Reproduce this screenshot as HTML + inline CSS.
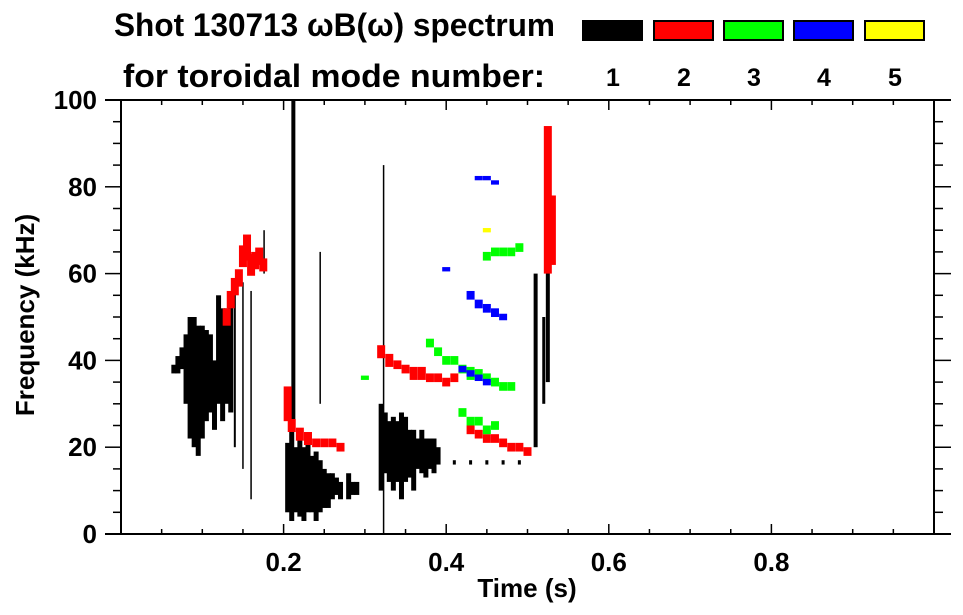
<!DOCTYPE html>
<html><head><meta charset="utf-8"><style>
body{margin:0;background:#fff;}
svg{display:block;font-family:"Liberation Sans",sans-serif;font-weight:bold;}
</style></head><body>
<svg id="chart" width="963" height="615" viewBox="0 0 963 615">
<g>
<text x="114" y="36" font-size="32" textLength="441" lengthAdjust="spacingAndGlyphs">Shot 130713 ωB(ω) spectrum</text>
<text x="123" y="87" font-size="32" textLength="422" lengthAdjust="spacingAndGlyphs">for toroidal mode number:</text>
</g>
<g id="legend"></g>
<g id="marks"></g>
<g id="axes"></g>
<text x="527" y="597" font-size="26" text-anchor="middle">Time (s)</text>
<text transform="translate(34,315) rotate(-90)" font-size="26" text-anchor="middle">Frequency (kHz)</text>
</svg>
<script>
const modeLabels=["1","2","3","4","5"];
const modeColors=["#000","#f00","#0f0","#00f","#ff0"];
const xTicks=[0.2,0.4,0.6,0.8];
const xTickLabels=["0.2","0.4","0.6","0.8"];
const yTicks=[0,20,40,60,80,100];
const yTickLabels=["0","20","40","60","80","100"];
// mode 1 (black) columns: time, low freq, high freq
const m1T=[0.065,0.07,0.075,0.08,0.085,0.09,0.095,0.10,0.105,0.11,0.115,0.12,0.125,0.13,0.135,0.14,0.15,0.16,0.212,0.205,0.21,0.215,0.22,0.225,0.23,0.235,0.24,0.245,0.25,0.255,0.26,0.265,0.27,0.28,0.285,0.29,0.32,0.325,0.33,0.335,0.34,0.345,0.35,0.355,0.36,0.365,0.37,0.375,0.38,0.385,0.39,0.41,0.43,0.45,0.47,0.49,0.51,0.52,0.525,0.323,0.176,0.245];
const m1Lo=[37,37,38,30,22,20,18,22,26,28,24,30,26,30,28,20,15,8,26,5,3,5,4,3,5,5,3,5,6,6,8,9,8,8,9,9,10,14,12,10,12,8,12,13,10,15,14,13,15,14,16,16,16,16,16,16,20,30,35,0,60,30];
const m1Hi=[39,41,43,46,50,50,48,48,47,46,40,55,52,52,55,56,58,56,100,21,24,20,22,20,22,18,19,17,15,14,14,13,12,14,12,12,30,28,26,27,26,28,27,24,24,22,24,22,22,22,20,17,17,17,17,17,60,50,72,85,70,65];
const m1W=[5,5,5,5,5,5,5,5,5,5,5,5,5,5,5,2,1.5,1.5,4,5,5,5,5,5,5,5,5,5,5,5,5,5,5,5,5,5,5,5,5,5,5,5,5,5,5,5,5,5,5,5,5,3,3,3,3,3,4,3,4,1.5,1.5,1.5];
// mode 2 (red)
const m2T=[0.13,0.135,0.14,0.145,0.15,0.155,0.16,0.165,0.17,0.175,0.205,0.21,0.22,0.23,0.24,0.25,0.26,0.27,0.32,0.33,0.34,0.35,0.36,0.37,0.38,0.39,0.40,0.41,0.43,0.44,0.45,0.46,0.47,0.48,0.49,0.50,0.525,0.53];
const m2F=[50,54,57,59,64,66,62,63,64,62,30,25,23,22,21,21,21,20,42,40,39,38,37,37,36,36,35,36,24,23,22,22,21,20,20,19,77,70];
const m2S=[4,4,4,4,5,6,5,4,4,3,8,3,3,3,2,2,2,2,3,3,2,2,3,3,2,2,2,2,2,2,2,2,2,2,2,2,34,16];
// mode 3 (green)
const m3T=[0.45,0.46,0.47,0.48,0.49,0.38,0.39,0.40,0.41,0.42,0.43,0.44,0.45,0.46,0.47,0.48,0.42,0.43,0.44,0.45,0.46,0.30];
const m3F=[64,65,65,65,66,44,42,40,40,38,37,37,36,35,34,34,28,26,26,24,25,36];
const m3S=[2,2,2,2,2,2,2,2,2,2,3,2,2,2,2,2,2,2,2,2,2,1];
// mode 4 (blue)
const m4T=[0.43,0.44,0.45,0.46,0.47,0.42,0.43,0.44,0.45,0.44,0.45,0.46,0.40];
const m4F=[55,53,52,51,50,38,37,36,35,82,82,81,61];
const m4S=[2,2,2,2,1.5,1.5,1.5,1.5,1.5,1,1,1,1];
// mode 5 (yellow)
const m5T=[0.45];
const m5F=[70];
const m5S=[1];

const NS="http://www.w3.org/2000/svg";
const X0=121,X1=934,Y0=534,Y1=100;
const xs=t=>X0+t*(X1-X0);
const ys=f=>Y0-f/100*(Y0-Y1);
function mk(tag,attrs,parent){const e=document.createElementNS(NS,tag);for(const k in attrs)e.setAttribute(k,attrs[k]);parent.appendChild(e);return e;}
const leg=document.getElementById('legend'),marks=document.getElementById('marks'),axes=document.getElementById('axes');
const legX=[582,653,723,793,864];
modeLabels.forEach((l,i)=>{
 const r=mk('rect',{x:legX[i]+1,y:21,width:59,height:19,fill:modeColors[i],stroke:'#000','stroke-width':2},leg);
 
 
 const t=mk('text',{x:legX[i]+31,y:86,'font-size':25,'text-anchor':'middle'},leg);
 t.textContent=l;
 
 
});
m1T.forEach((t,i)=>{
 const r=mk('rect',{x:xs(t)-m1W[i]/2,y:ys(m1Hi[i]),width:m1W[i],height:ys(m1Lo[i])-ys(m1Hi[i]),fill:'#000'},marks);
 
 
});
[[m2T,m2F,m2S,1],[m3T,m3F,m3S,2],[m4T,m4F,m4S,3],[m5T,m5F,m5S,4]].forEach(([T,F,S,c])=>{
 T.forEach((t,i)=>{
  const r=mk('rect',{x:xs(t)-4,y:ys(F[i]+S[i]/2),width:8,height:Math.max(2,S[i]/100*(Y0-Y1)),fill:modeColors[c]},marks);
  
  
 });
});
mk('line',{x1:105,y1:Y1,x2:951,y2:Y1,stroke:'#000','stroke-width':2},axes);
mk('line',{x1:105,y1:Y0,x2:951,y2:Y0,stroke:'#000','stroke-width':2},axes);
mk('line',{x1:X0,y1:Y1,x2:X0,y2:Y0+1,stroke:'#000','stroke-width':2},axes);
mk('line',{x1:X1,y1:Y1,x2:X1,y2:Y0+1,stroke:'#000','stroke-width':2},axes);
for(let k=0;k<=20;k++){const f=k*5;const y=ys(f);const maj=k%4==0;
 mk('line',{x1:maj?105:113,y1:y,x2:X0,y2:y,stroke:'#000','stroke-width':1.5},axes);
 mk('line',{x1:X1,y1:y,x2:maj?951:943,y2:y,stroke:'#000','stroke-width':1.5},axes);}
for(let k=1;k<20;k++){const x=xs(k*0.05);const maj=k%4==0;
 mk('line',{x1:x,y1:Y0,x2:x,y2:Y0-(maj?10:5),stroke:'#000','stroke-width':1.5},axes);
 mk('line',{x1:x,y1:Y1,x2:x,y2:Y1+(maj?10:5),stroke:'#000','stroke-width':1.5},axes);}
yTicks.forEach((v,i)=>{const t=mk('text',{x:97,y:ys(v)+9,'font-size':26,'text-anchor':'end'},axes);t.textContent=yTickLabels[i];
 
 });
xTicks.forEach((v,i)=>{const t=mk('text',{x:xs(v),y:571,'font-size':26,'text-anchor':'middle'},axes);t.textContent=xTickLabels[i];
 
 });
</script>
</body></html>
